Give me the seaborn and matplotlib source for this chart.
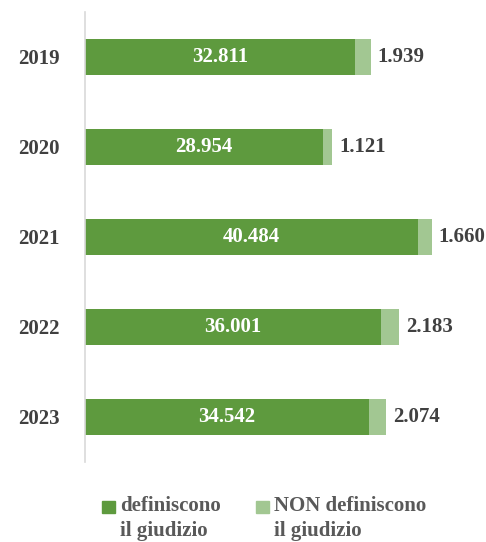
import pandas as pd
import seaborn as sns
import matplotlib.pyplot as plt
from matplotlib.patches import Rectangle

# dati
anni = ['2019', '2020', '2021', '2022', '2023']
definiscono = [32811, 28954, 40484, 36001, 34542]
non_definiscono = [1939, 1121, 1660, 2183, 2074]

def fmt(v):
    return f"{v:,}".replace(",", ".")

df = pd.DataFrame({'anno': anni, 'def': definiscono, 'non': non_definiscono})
df['tot'] = df['def'] + df['non']

verde = '#5e9a3e'
verde_chiaro = '#a2c792'
grigio = '#404040'

sns.set_style('white')
plt.rcParams['font.family'] = ['Liberation Serif', 'DejaVu Serif']
plt.rcParams['font.weight'] = 'bold'

fig = plt.figure(figsize=(4.86, 5.42), dpi=100)
ax = fig.add_axes([85 / 486, 1 - 462 / 542, 390 / 486, 450 / 542])

sns.barplot(data=df, x='tot', y='anno', color=verde_chiaro, width=0.4,
            orient='h', ax=ax, saturation=1, linewidth=0)
sns.barplot(data=df, x='def', y='anno', color=verde, width=0.4,
            orient='h', ax=ax, saturation=1, linewidth=0)

ax.set_xlim(0, 47400)
ax.set_ylim(4.5, -0.5)

# etichette
ax.bar_label(ax.containers[1], labels=[fmt(v) for v in df['def']],
             label_type='center', color='white', fontsize=15, fontweight='bold')
etich = ax.bar_label(ax.containers[0], labels=[fmt(v) for v in df['non']],
                     label_type='edge', padding=5, color=grigio, fontsize=15,
                     fontweight='bold')
for t in etich:
    t.set_va('center')

ax.set_xlabel('')
ax.set_ylabel('')
ax.set_xticks([])
ax.tick_params(axis='y', length=0, pad=18, labelsize=15, labelcolor=grigio)
for lab in ax.get_yticklabels():
    lab.set_fontweight('bold')

for s in ['top', 'right', 'bottom']:
    ax.spines[s].set_visible(False)
ax.spines['left'].set_color('#d9d9d9')
ax.spines['left'].set_linewidth(1.2)

# legenda
voci = [(102, verde, 'definiscono\nil giudizio'),
        (256, verde_chiaro, 'NON definiscono\nil giudizio')]
for x0, col, testo in voci:
    fig.patches.append(Rectangle((x0 / 486, 1 - 513 / 542), 13 / 486, 12 / 542,
                                 transform=fig.transFigure, color=col))
    fig.text((x0 + 18) / 486, 1 - 496 / 542, testo, ha='left', va='top',
             fontsize=15, fontweight='bold', color='#595959', linespacing=1.35)

fig.savefig('out.png', dpi=100)
